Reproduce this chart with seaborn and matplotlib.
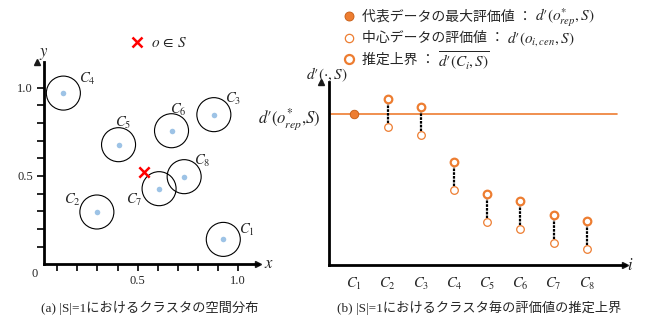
"""Cluster distribution and per-cluster upper bound of evaluation values (|S|=1)."""

import matplotlib
matplotlib.use("Agg")
import matplotlib.pyplot as plt
import pandas as pd
import seaborn as sns
from matplotlib.lines import Line2D

# (a) cluster centres in the unit square
cluster_names = ["C1", "C2", "C3", "C4", "C5", "C6", "C7", "C8"]
cluster_x = [0.927, 0.297, 0.880, 0.130, 0.405, 0.669, 0.607, 0.732]
cluster_y = [0.141, 0.296, 0.847, 0.969, 0.677, 0.756, 0.428, 0.496]
query_x = [0.534]
query_y = [0.522]
tick_values = [0.1, 0.2, 0.3, 0.4, 0.5, 0.6, 0.7, 0.8, 0.9, 1.0]
tick_labels = ["", "", "", "", "0.5", "", "", "", "", "1.0"]

# (b) evaluation values per cluster
cluster_index = [1, 2, 3, 4, 5, 6, 7, 8]
rep_max = 1.51
upper_idx = [2, 3, 4, 5, 6, 7, 8]
upper_bound = [1.66, 1.58, 1.03, 0.71, 0.64, 0.50, 0.44]
center_value = [1.38, 1.30, 0.75, 0.43, 0.36, 0.22, 0.16]

leg_text = ["代表データの最大評価値 ：", "中心データの評価値 ：", "推定上界 ："]
leg_math = ["$d′(o^{*}_{rep}, S)$", "$d′(o_{i,cen}, S)$", r"$\overline{d′(C_i,S)}$"]

ORANGE = "#ED7D31"
BLUE = "#9DC3E6"
W, H = 645, 322

sns.set_theme(style="white")
plt.rcParams["font.family"] = ["Liberation Serif", "Noto Sans CJK JP", "DejaVu Sans"]
plt.rcParams["mathtext.fontset"] = "stix"

fig = plt.figure(figsize=(W / 100, H / 100), dpi=100)

# ---------- (a) ----------
ax = fig.add_axes([44 / W, 1 - 264.3 / H, 214 / W, 202.3 / H])
ax.set_xlim(0.0335, 1.10)
ax.set_ylim(0, 1.145)

df_a = pd.DataFrame({"x": cluster_x, "y": cluster_y, "name": cluster_names})
sns.scatterplot(data=df_a, x="x", y="y", ax=ax, s=600, facecolor="none",
                edgecolor="black", linewidth=0.8, zorder=2, legend=False)
sns.scatterplot(data=df_a, x="x", y="y", ax=ax, s=16, color=BLUE,
                linewidth=0, zorder=3, legend=False)
sns.scatterplot(x=query_x, y=query_y, ax=ax, marker="x", s=55, color="red",
                linewidth=1.8, zorder=4, legend=False)

label_offsets = {"C1": (17, 7), "C2": (-18, 9), "C3": (14, 11), "C4": (17, 10),
                 "C5": (3, 16), "C6": (5, 15), "C7": (-18, -8), "C8": (13, 11)}
for name, cx, cy in zip(cluster_names, cluster_x, cluster_y):
    ax.annotate(f"${name[0]}_{name[1]}$", (cx, cy), xytext=label_offsets[name],
                textcoords="offset points", ha="center", va="center", fontsize=10.5)

for side in ["top", "right"]:
    ax.spines[side].set_visible(False)
for side in ["left", "bottom"]:
    ax.spines[side].set_linewidth(2)
    ax.spines[side].set_color("black")
ax.plot(1, 0, ">k", ms=5, transform=ax.get_yaxis_transform(), clip_on=False)
ax.plot(0, 1, "^k", ms=5, transform=ax.get_xaxis_transform(), clip_on=False)

ax.set_xticks(tick_values, tick_labels)
ax.set_yticks(tick_values, tick_labels)
ax.tick_params(axis="both", direction="out", length=5, width=1.2, color="black",
               labelsize=9, pad=3, bottom=True, left=True)
ax.set_xlabel("$x$", fontsize=12)
ax.set_ylabel("$y$", fontsize=12, rotation=0)
ax.xaxis.set_label_coords(1.05, 0.04)
ax.yaxis.set_label_coords(0.0, 1.0)
ax.annotate("0", (0, 0), xycoords="axes fraction", xytext=(-6.5, -7),
            textcoords="offset points", ha="center", va="center", fontsize=9)

q_handle = Line2D([], [], marker="x", color="red", linestyle="none", ms=7, mew=1.8)
ax.legend([q_handle], [r"$o\,\in\,S$"], loc="center left", frameon=False,
          bbox_to_anchor=(125 / W, 1 - 43 / H), bbox_transform=fig.transFigure,
          handlelength=0.8, handletextpad=0.5, fontsize=11, borderaxespad=0)

fig.text(150 / W, 1 - 308 / H, "(a) |S|=1におけるクラスタの空間分布",
         ha="center", va="center", fontsize=9.5)

# ---------- (b) ----------
bx = fig.add_axes([329.3 / W, 1 - 265 / H, 295.7 / W, 183 / H])
bx.set_xlim(0.247, 9.15)
bx.set_ylim(0, 1.83)

bx.axhline(rep_max, xmax=0.973, color=ORANGE, lw=1.2, zorder=1)
bx.vlines(upper_idx, center_value, upper_bound, colors="black",
          linestyles=(0, (1.2, 0.5)), lw=1.6, zorder=2)
sns.scatterplot(x=[cluster_index[0]], y=[rep_max], ax=bx, s=38, color=ORANGE,
                edgecolor="#C55A11", linewidth=0.6, zorder=4, legend=False)
sns.scatterplot(x=upper_idx, y=upper_bound, ax=bx, s=30, facecolor="white",
                edgecolor=ORANGE, linewidth=1.6, zorder=4, legend=False)
sns.scatterplot(x=upper_idx, y=center_value, ax=bx, s=30, facecolor="white",
                edgecolor=ORANGE, linewidth=0.9, zorder=4, legend=False)

for side in ["top", "right"]:
    bx.spines[side].set_visible(False)
for side in ["left", "bottom"]:
    bx.spines[side].set_linewidth(2)
    bx.spines[side].set_color("black")
bx.plot(1, 0, ">k", ms=5, transform=bx.get_yaxis_transform(), clip_on=False)
bx.plot(0, 1, "^k", ms=5, transform=bx.get_xaxis_transform(), clip_on=False)

bx.set_xticks(cluster_index, [f"$C_{i}$" for i in cluster_index])
bx.set_yticks([rep_max], ["$d′(o^{*}_{rep}{,}S)$"])
bx.tick_params(axis="x", length=0, labelsize=10.5, pad=8)
bx.tick_params(axis="y", length=0, labelsize=12, pad=6)
bx.set_xlabel("$i$", fontsize=12)
bx.set_ylabel(r"$d′(\cdot,S)$", fontsize=11, rotation=0)
bx.xaxis.set_label_coords(1.017, 0.04)
bx.yaxis.set_label_coords(-0.008, 0.99)

leg_handles = [
    Line2D([], [], marker="o", linestyle="none", ms=6.5, color=ORANGE, mec="#C55A11", mew=0.6),
    Line2D([], [], marker="o", linestyle="none", ms=6, mfc="white", mec=ORANGE, mew=0.9),
    Line2D([], [], marker="o", linestyle="none", ms=6.5, mfc="white", mec=ORANGE, mew=1.6),
]
leg = bx.legend(leg_handles, leg_text, loc="upper left", frameon=False,
                bbox_to_anchor=(337 / W, 1 - 5 / H), bbox_transform=fig.transFigure,
                handlelength=1.0, handletextpad=0.4, labelspacing=0.6, fontsize=10,
                borderaxespad=0)
for txt, math in zip(leg.get_texts(), leg_math):
    bx.annotate(math, xy=(1, 0.5), xycoords=txt, xytext=(2, 0), textcoords="offset points",
                ha="left", va="center", fontsize=11, zorder=6, annotation_clip=False)

fig.text(479 / W, 1 - 308 / H, "(b) |S|=1におけるクラスタ毎の評価値の推定上界",
         ha="center", va="center", fontsize=9.5)

fig.savefig("out.png", dpi=100)
